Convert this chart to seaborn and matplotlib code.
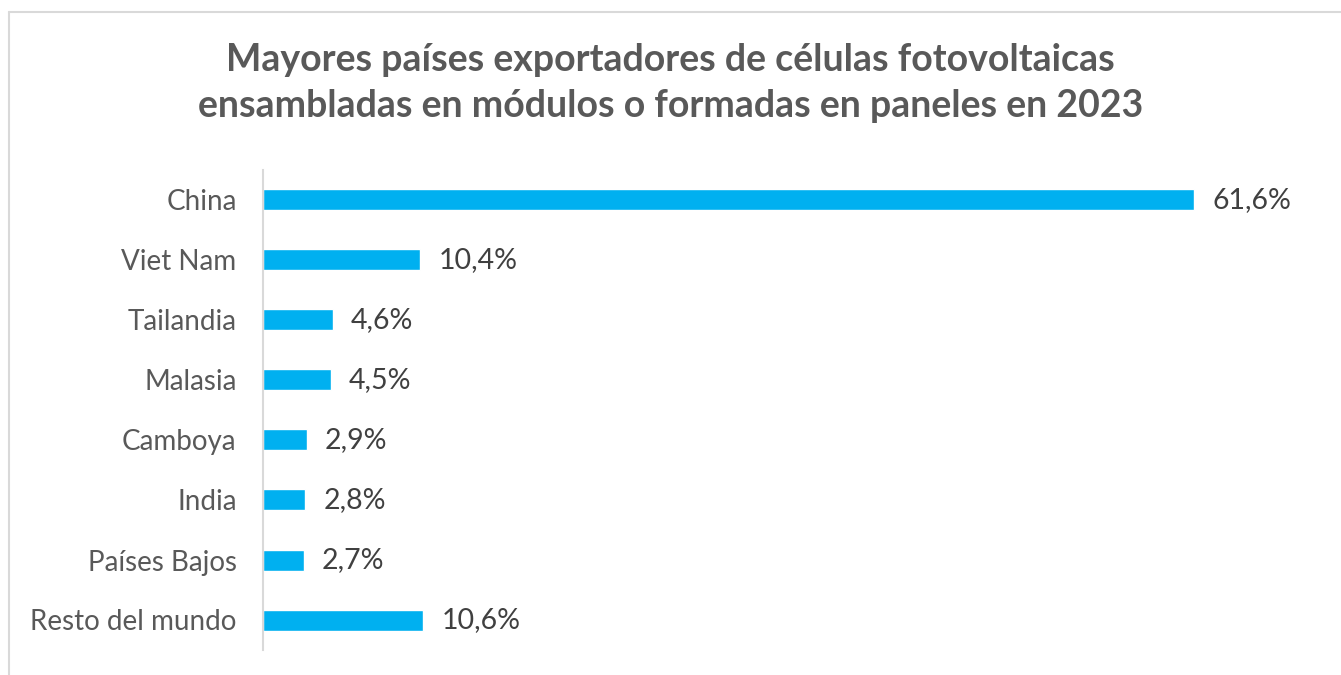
import matplotlib
matplotlib.use("Agg")
import matplotlib.pyplot as plt
import seaborn as sns
import pandas as pd
from matplotlib.lines import Line2D

sns.set_theme(style="white")
plt.rcParams["font.family"] = ["Lato", "DejaVu Sans"]

# ==================================================
# DATA
# ==================================================

countries = [
    "China", "Viet Nam", "Tailandia", "Malasia",
    "Camboya", "India", "Países Bajos", "Resto del mundo",
]
shares = [61.6, 10.4, 4.6, 4.5, 2.9, 2.8, 2.7, 10.6]
labels = ["61,6%", "10,4%", "4,6%", "4,5%", "2,9%", "2,8%", "2,7%", "10,6%"]

title = ("Mayores países exportadores de células fotovoltaicas\n"
         "ensambladas en módulos o formadas en paneles en 2023")

df = pd.DataFrame({"country": countries, "share": shares})

# ==================================================
# FIGURE
# ==================================================

W, H = 1341, 675
fig = plt.figure(figsize=(W / 100, H / 100), dpi=100)

# axes box in pixels: left 263, right 1300, top 170, bottom 650
ax = fig.add_axes([263 / W, 1 - 650 / H, (1300 - 263) / W, (650 - 170) / H])

sns.barplot(
    data=df,
    y="country",
    x="share",
    color="#00b0f0",
    width=0.35,
    saturation=1,
    orient="h",
    ax=ax,
)

ax.set_xlim(0, (1300 - 263) / (931 / 61.6))
ax.set_ylim(len(countries) - 0.5, -0.5)

for i, (v, lab) in enumerate(zip(shares, labels)):
    ax.text(v + 1.2, i, lab, va="center", ha="left",
            fontsize=20.5, color="#404040")

ax.set_xlabel("")
ax.set_ylabel("")
ax.set_xticks([])
ax.tick_params(axis="y", length=0, pad=19, labelsize=20, labelcolor="#595959")

for side in ["top", "right", "bottom"]:
    ax.spines[side].set_visible(False)
ax.spines["left"].set_color("#d9d9d9")
ax.spines["left"].set_linewidth(1.5)

fig.text(0.5, 1 - 83 / H, title, ha="center", va="center",
         fontsize=27, fontweight="bold", color="#595959",
         linespacing=1.4)

# chart border (light gray frame, cut off at right and bottom)
fig.add_artist(Line2D([9 / W, 1.0], [1 - 12 / H, 1 - 12 / H],
                      transform=fig.transFigure, color="#d9d9d9", lw=1.5))
fig.add_artist(Line2D([9 / W, 9 / W], [0.0, 1 - 12 / H],
                      transform=fig.transFigure, color="#d9d9d9", lw=1.5))

fig.savefig("out.png", dpi=100, facecolor="white")
